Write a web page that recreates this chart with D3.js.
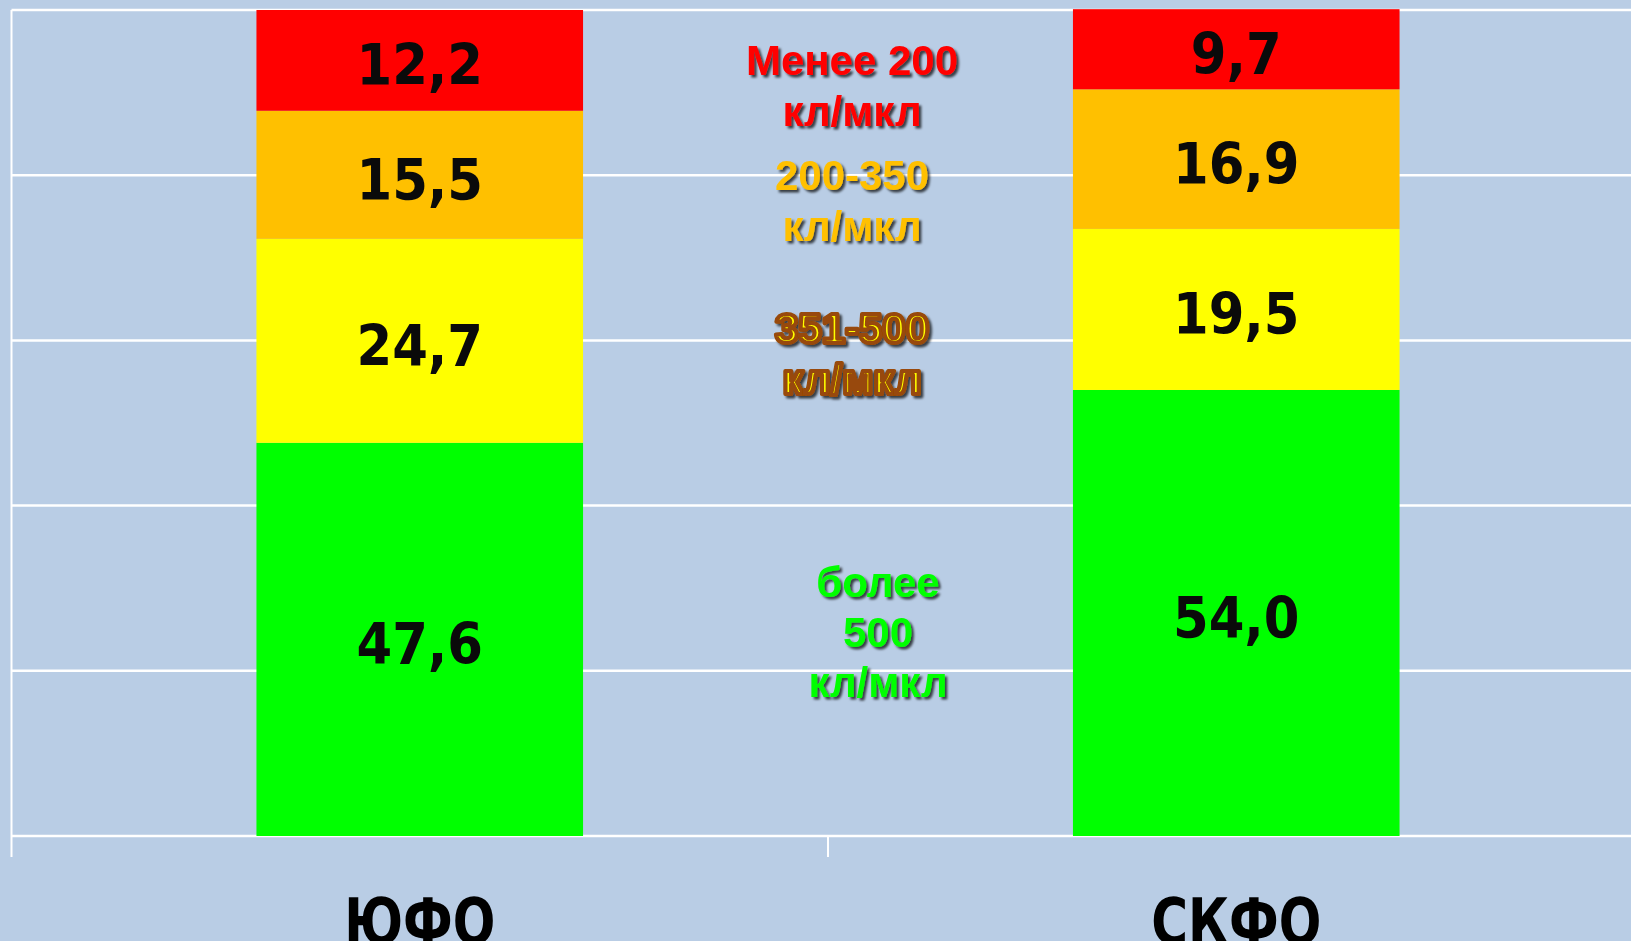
<!DOCTYPE html>
<html>
<head>
<meta charset="utf-8">
<script src="https://cdn.jsdelivr.net/npm/d3@7"></script>
<style>
  html, body { margin: 0; padding: 0; background: #B9CDE5; overflow: hidden; }
</style>
</head>
<body>
<div id="chart"></div>
<script>
// data
var categories = ["ЮФО", "СКФО"];
var groups = ["более 500", "351-500", "200-350", "менее 200"];   // bottom -> top
var values = {
    "ЮФО":  [47.6, 24.7, 15.5, 12.2],
    "СКФО": [54.0, 19.5, 16.9, 9.7]
};
var yTicks = [0, 20, 40, 60, 80, 100];
var legendLines = [
    ["Менее 200", "кл/мкл"],
    ["200-350", "кл/мкл"],
    ["351-500", "кл/мкл"],
    ["более", "500", "кл/мкл"]
];

var W = 1631, H = 941;
var colors = ["#00FF00", "#FFFF00", "#FFC000", "#FF0000"];

var svg = d3.select("#chart").append("svg")
    .attr("width", W)
    .attr("height", H);

svg.append("rect").attr("width", W).attr("height", H).attr("fill", "#B9CDE5");

var defs = svg.append("defs");
defs.append("filter")
    .attr("id", "shadow")
    .attr("x", "-10%").attr("y", "-20%").attr("width", "130%").attr("height", "150%")
    .append("feDropShadow")
    .attr("dx", 2.5).attr("dy", 2.5)
    .attr("stdDeviation", 1.3)
    .attr("flood-color", "#000")
    .attr("flood-opacity", 0.7);

var x = d3.scaleBand()
    .domain(categories)
    .range([11.5, 1644.5]);

var y = d3.scaleLinear()
    .domain([0, 100])
    .range([836, 10]);

// grid lines
svg.append("g")
    .selectAll("line")
    .data(yTicks)
    .join("line")
    .attr("x1", 11.5)
    .attr("x2", W)
    .attr("y1", d => y(d))
    .attr("y2", d => y(d))
    .attr("stroke", "#fff")
    .attr("stroke-width", 2.5);

// left axis line + category ticks
svg.append("line")
    .attr("x1", 11.5).attr("x2", 11.5)
    .attr("y1", y(100)).attr("y2", y(0) + 21)
    .attr("stroke", "#fff")
    .attr("stroke-width", 2);

svg.append("g")
    .selectAll("line")
    .data(categories.slice(1))
    .join("line")
    .attr("x1", d => x(d)).attr("x2", d => x(d))
    .attr("y1", y(0)).attr("y2", y(0) + 21)
    .attr("stroke", "#fff")
    .attr("stroke-width", 2);

// stacked bars
var stackData = categories.map(function (c) {
    var row = { cat: c };
    groups.forEach(function (g, i) { row[g] = values[c][i]; });
    return row;
});
var series = d3.stack().keys(groups)(stackData);

var barW = x.bandwidth() * 0.4;
var barOff = (x.bandwidth() - barW) / 2;

var layers = svg.append("g")
    .selectAll("g")
    .data(series)
    .join("g")
    .attr("fill", (d, i) => colors[i]);

layers.selectAll("rect")
    .data(d => d)
    .join("rect")
    .attr("x", d => x(d.data.cat) + barOff)
    .attr("width", barW)
    .attr("y", d => y(d[1]))
    .attr("height", d => y(d[0]) - y(d[1]));

layers.selectAll("text")
    .data(d => d.map(p => ({ p: p, v: p[1] - p[0] })))
    .join("text")
    .attr("x", d => x(d.p.data.cat) + x.bandwidth() / 2)
    .attr("y", d => (y(d.p[0]) + y(d.p[1])) / 2 + 25)
    .attr("text-anchor", "middle")
    .attr("fill", "#0a0a0a")
    .style("font-family", "'DejaVu Sans Condensed', 'DejaVu Sans', sans-serif")
    .style("font-stretch", "condensed")
    .style("font-weight", "bold")
    .style("font-size", "57px")
    .text(d => d.v.toFixed(1).replace(".", ","));

// category labels (narrow, like the original)
svg.append("g")
    .selectAll("text")
    .data(categories)
    .join("text")
    .attr("transform", d => `translate(${x(d) + x.bandwidth() / 2}, 944) scale(0.87, 1)`)
    .attr("text-anchor", "middle")
    .attr("fill", "#000")
    .style("font-family", "'DejaVu Sans Condensed', 'DejaVu Sans', sans-serif")
    .style("font-stretch", "condensed")
    .style("font-weight", "bold")
    .style("font-size", "64px")
    .text(d => d);

// legend notes in the middle
var legendPos = [
    { x: 852, y: 75 },
    { x: 852, y: 190 },
    { x: 852, y: 343 },
    { x: 878, y: 597 }
];
var legendFill = ["#FF0000", "#FFC000", "#FFFF00", "#00FF00"];

legendLines.forEach(function (lines, i) {
    var t = svg.append("text")
        .attr("x", legendPos[i].x)
        .attr("y", legendPos[i].y)
        .attr("text-anchor", "middle")
        .attr("fill", legendFill[i])
        .attr("filter", "url(#shadow)")
        .style("font-family", "'Liberation Sans', Arial, sans-serif")
        .style("font-weight", "bold")
        .style("font-size", "42px");
    if (i === 2) {
        t.attr("stroke", "#984807")
         .attr("stroke-width", 4.2)
         .attr("stroke-linejoin", "round");
    }
    lines.forEach(function (l, j) {
        t.append("tspan")
            .attr("x", legendPos[i].x)
            .attr("dy", j === 0 ? 0 : (i === 3 ? 50 : 51))
            .text(l);
    });
});
</script>
</body>
</html>
